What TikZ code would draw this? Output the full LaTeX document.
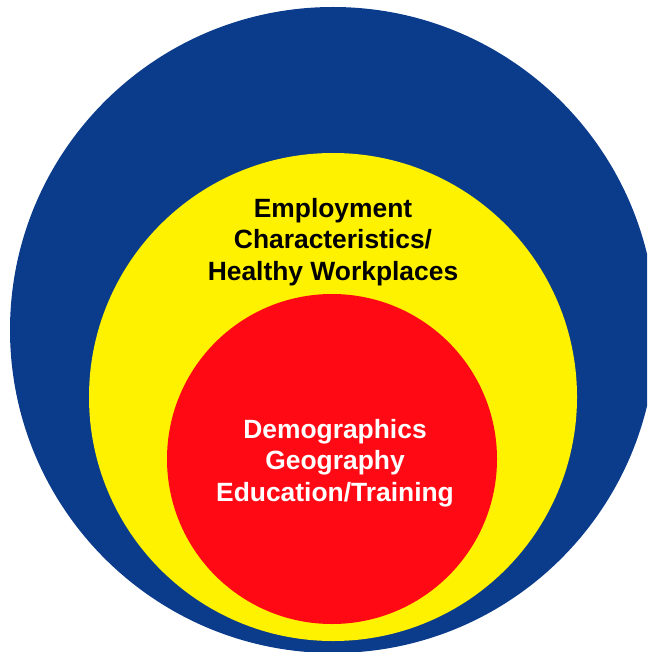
\documentclass[tikz,border=0pt]{standalone}
\usepackage{fontspec}
\setmainfont{Liberation Sans}
\definecolor{ringblue}{HTML}{0B3C8C}
\definecolor{ringyellow}{HTML}{FFF200}
\definecolor{ringred}{HTML}{FF0A14}
\begin{document}
\begin{tikzpicture}[x=1pt,y=-1pt,
  label/.style={align=center,font=\bfseries\fontsize{26.4}{31.5}\selectfont,inner sep=0pt}]
  \useasboundingbox (0,0) rectangle (647,652);
  \begin{scope}
    \clip (0,0) rectangle (647,652);
    % nested rings
    \fill[ringblue] (333,330) circle[radius=323];
    \fill[ringyellow] (333,397) circle[radius=244];
    \fill[ringred] (332,459) circle[radius=165];
  \end{scope}
  \node[label,text=black] (outer) at (333,242) {Employment\\Characteristics/\\Healthy Workplaces};
  \node[label,text=white] (inner) at (335,463) {Demographics\\Geography\\Education/Training};
\end{tikzpicture}
\end{document}
